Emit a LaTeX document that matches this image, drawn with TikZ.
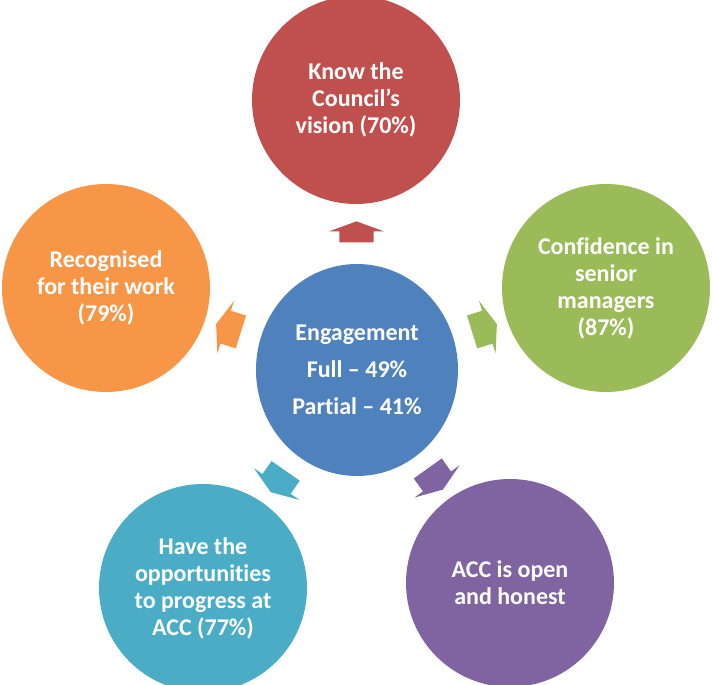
\documentclass[tikz,border=0pt]{standalone}
\usepackage{fontspec}
\setmainfont{Carlito}[Ligatures={TeX,NoCommon}]
\usetikzlibrary{calc,shapes.geometric,shapes.arrows}
\definecolor{engblue}{HTML}{4F81BD}
\definecolor{visred}{HTML}{C0504D}
\definecolor{confgreen}{HTML}{9BBB59}
\definecolor{recorange}{HTML}{F79646}
\definecolor{oppteal}{HTML}{4BACC6}
\definecolor{openpurple}{HTML}{8064A2}
\begin{document}
\begin{tikzpicture}[x=1pt,y=1pt,
  bubble/.style={circle,inner sep=0,minimum size=208pt,align=center,text=white,
    font=\fontsize{24}{27}\selectfont\bfseries},
  pointer/.style={single arrow,inner xsep=0,inner ysep=17pt,minimum height=26pt,
    single arrow head extend=10.5pt,single arrow tip angle=140}]
\useasboundingbox (0,0) rectangle (713,685);
% centre
\node[ellipse,fill=engblue,inner sep=0,minimum width=202pt,minimum height=212pt,align=center,text=white,
  font=\fontsize{24}{37}\selectfont\bfseries] (eng) at (357,315) {Engagement\\Full -- 49\%\\Partial -- 41\%};
% outer circles
\node[bubble,fill=visred] (vision) at (356,585) {Know the\\Council’s\\vision (70\%)};
\node[bubble,fill=confgreen] (conf) at (606,397) {Confidence in\\senior\\managers\\(87\%)};
\node[bubble,fill=recorange] (recog) at (106,397) {Recognised\\for their work\\(79\%)};
\node[bubble,fill=oppteal] (oppo) at (203,97) {Have the\\opportunities\\to progress at\\ACC (77\%)};
\node[bubble,fill=openpurple] (open) at (510,102) {ACC is open\\and honest};
% arrows
\node[pointer,fill=visred,rotate=90,minimum height=21pt] (a1) at ($(eng)!0.5!(vision)$) {};
\node[pointer,fill=confgreen,rotate=17.5] (a2) at ($(eng)!0.5!(conf)$) {};
\node[pointer,fill=recorange,rotate=162.5] (a3) at ($(eng)!0.5!(recog)$) {};
\node[pointer,fill=oppteal,rotate=-125] (a4) at ($(eng)!0.5!(oppo)$) {};
\node[pointer,fill=openpurple,rotate=-54.5] (a5) at ($(eng)!0.5!(open)$) {};
\end{tikzpicture}
\end{document}
